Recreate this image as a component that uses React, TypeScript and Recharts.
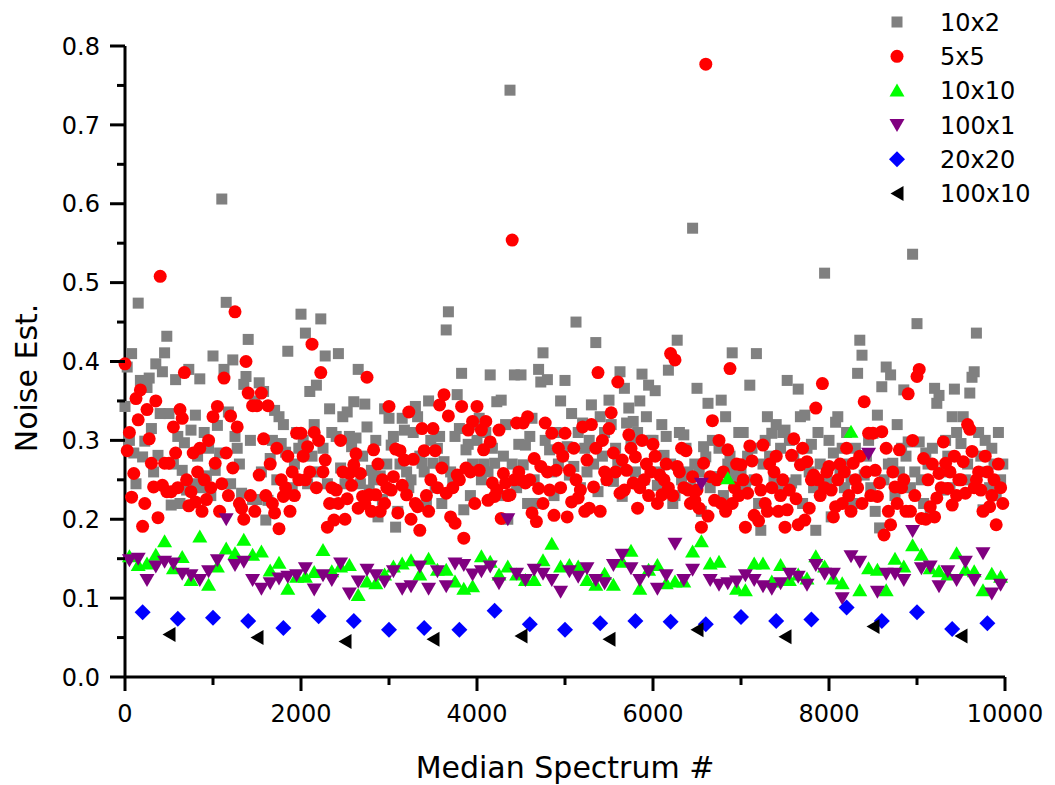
import { ScatterChart, Scatter, XAxis, YAxis } from "recharts";

// 10x2 : one value every 25 spectra, starting at 0
const gray10x2 = [
  0.343, 0.393, 0.3, 0.41, 0.284, 0.245, 0.474, 0.376, 0.279, 0.299, 0.367, 0.379, 0.315, 0.26, 0.397, 0.281, 0.334, 0.387, 0.411, 0.432,
  0.334, 0.218, 0.27, 0.377, 0.305, 0.22, 0.262, 0.297, 0.237, 0.39, 0.313, 0.245, 0.332, 0.28, 0.378, 0.24, 0.31, 0.255, 0.29, 0.23,
  0.407, 0.262, 0.319, 0.284, 0.606, 0.39, 0.475, 0.336, 0.245, 0.402, 0.305, 0.29, 0.27, 0.233, 0.371, 0.381, 0.428, 0.3, 0.225, 0.35,
  0.225, 0.373, 0.26, 0.362, 0.199, 0.224, 0.277, 0.3, 0.338, 0.25, 0.33, 0.296, 0.32, 0.285, 0.413, 0.235, 0.24, 0.27, 0.31, 0.29,
  0.46, 0.3, 0.436, 0.245, 0.362, 0.28, 0.32, 0.37, 0.26, 0.454, 0.29, 0.407, 0.245, 0.34, 0.31, 0.22, 0.305, 0.41, 0.265, 0.33,
  0.245, 0.336, 0.305, 0.292, 0.349, 0.303, 0.39, 0.245, 0.28, 0.346, 0.317, 0.237, 0.262, 0.25, 0.3, 0.203, 0.255, 0.225, 0.34, 0.27,
  0.328, 0.294, 0.305, 0.19, 0.21, 0.27, 0.328, 0.313, 0.26, 0.24, 0.25, 0.31, 0.343, 0.33, 0.28, 0.271, 0.26, 0.22, 0.35, 0.3,
  0.271, 0.24, 0.29, 0.305, 0.22, 0.273, 0.44, 0.463, 0.26, 0.25, 0.305, 0.358, 0.315, 0.385, 0.212, 0.288, 0.295, 0.23, 0.27, 0.32,
  0.3, 0.328, 0.25, 0.27, 0.31, 0.26, 0.383, 0.29, 0.271, 0.349, 0.23, 0.351, 0.28, 0.32, 0.2, 0.744, 0.27, 0.383, 0.24, 0.295,
  0.383, 0.269, 0.294, 0.22, 0.305, 0.328, 0.25, 0.22, 0.39, 0.374, 0.411, 0.3, 0.377, 0.288, 0.26, 0.23, 0.31, 0.27, 0.35, 0.28,
  0.376, 0.292, 0.256, 0.334, 0.267, 0.45, 0.31, 0.24, 0.322, 0.29, 0.26, 0.3, 0.345, 0.27, 0.424, 0.235, 0.33, 0.28, 0.31, 0.25,
  0.351, 0.32, 0.248, 0.29, 0.27, 0.387, 0.229, 0.366, 0.322, 0.341, 0.3, 0.324, 0.26, 0.31, 0.35, 0.384, 0.25, 0.33, 0.37, 0.3,
  0.3, 0.363, 0.243, 0.26, 0.32, 0.281, 0.305, 0.389, 0.27, 0.22, 0.23, 0.427, 0.31, 0.25, 0.307, 0.29, 0.26, 0.24, 0.569, 0.27,
  0.366, 0.26, 0.21, 0.292, 0.279, 0.347, 0.24, 0.3, 0.25, 0.254, 0.29, 0.351, 0.23, 0.33, 0.27, 0.28, 0.411, 0.26, 0.25, 0.31,
  0.26, 0.31, 0.24, 0.28, 0.37, 0.29, 0.25, 0.41, 0.22, 0.186, 0.27, 0.3, 0.33, 0.28, 0.309, 0.25, 0.32, 0.24, 0.29, 0.31,
  0.313, 0.376, 0.3, 0.246, 0.28, 0.25, 0.365, 0.33, 0.22, 0.332, 0.29, 0.26, 0.295, 0.24, 0.186, 0.31, 0.27, 0.25, 0.512, 0.25,
  0.3, 0.203, 0.284, 0.323, 0.33, 0.26, 0.29, 0.24, 0.31, 0.27, 0.25, 0.22, 0.29, 0.385, 0.427, 0.408, 0.256, 0.28, 0.3, 0.24,
  0.309, 0.21, 0.332, 0.189, 0.368, 0.25, 0.393, 0.27, 0.383, 0.271, 0.23, 0.32, 0.26, 0.29, 0.364, 0.28, 0.298, 0.24, 0.536, 0.26,
  0.448, 0.298, 0.25, 0.22, 0.284, 0.27, 0.21, 0.29, 0.366, 0.347, 0.357, 0.26, 0.237, 0.3, 0.28, 0.24, 0.33, 0.365, 0.31, 0.25,
  0.296, 0.33, 0.25, 0.27, 0.36, 0.38, 0.387, 0.436, 0.31, 0.28, 0.212, 0.3, 0.26, 0.24, 0.29, 0.27, 0.23, 0.31, 0.25, 0.27,
];

// 5x5 : one value every 25 spectra, starting at 0
const red5x5 = [
  0.397, 0.287, 0.31, 0.228, 0.258, 0.353, 0.326, 0.364, 0.191, 0.22, 0.339, 0.302, 0.271, 0.241, 0.35, 0.202, 0.508, 0.243, 0.271, 0.235,
  0.271, 0.235, 0.317, 0.284, 0.24, 0.339, 0.328, 0.386, 0.25, 0.217, 0.235, 0.284, 0.222, 0.26, 0.29, 0.21, 0.25, 0.225, 0.3, 0.24,
  0.33, 0.271, 0.343, 0.21, 0.245, 0.379, 0.284, 0.23, 0.331, 0.265, 0.463, 0.317, 0.22, 0.214, 0.2, 0.4, 0.36, 0.23, 0.344, 0.21,
  0.344, 0.256, 0.36, 0.302, 0.23, 0.344, 0.27, 0.22, 0.208, 0.29, 0.188, 0.25, 0.229, 0.24, 0.28, 0.21, 0.26, 0.23, 0.309, 0.25,
  0.309, 0.28, 0.25, 0.292, 0.26, 0.422, 0.31, 0.24, 0.3, 0.386, 0.26, 0.275, 0.19, 0.22, 0.24, 0.199, 0.237, 0.22, 0.3, 0.26,
  0.2, 0.226, 0.258, 0.243, 0.269, 0.283, 0.214, 0.258, 0.229, 0.22, 0.38, 0.231, 0.21, 0.288, 0.231, 0.27, 0.21, 0.25, 0.22, 0.24,
  0.343, 0.237, 0.254, 0.289, 0.208, 0.287, 0.243, 0.275, 0.231, 0.336, 0.2, 0.276, 0.22, 0.216, 0.186, 0.315, 0.287, 0.23, 0.21, 0.25,
  0.315, 0.287, 0.24, 0.345, 0.265, 0.358, 0.233, 0.331, 0.203, 0.24, 0.195, 0.256, 0.25, 0.343, 0.176, 0.265, 0.313, 0.26, 0.324, 0.22,
  0.343, 0.262, 0.313, 0.288, 0.324, 0.224, 0.298, 0.246, 0.229, 0.237, 0.313, 0.201, 0.258, 0.246, 0.23, 0.231, 0.554, 0.25, 0.322, 0.26,
  0.25, 0.322, 0.246, 0.33, 0.25, 0.208, 0.277, 0.197, 0.239, 0.267, 0.22, 0.322, 0.26, 0.237, 0.309, 0.205, 0.262, 0.29, 0.24, 0.28,
  0.309, 0.203, 0.262, 0.222, 0.29, 0.25, 0.227, 0.237, 0.317, 0.21, 0.275, 0.214, 0.32, 0.241, 0.29, 0.386, 0.21, 0.3, 0.26, 0.25,
  0.315, 0.335, 0.284, 0.26, 0.374, 0.233, 0.275, 0.237, 0.262, 0.307, 0.29, 0.246, 0.279, 0.214, 0.24, 0.3, 0.25, 0.27, 0.23, 0.26,
  0.295, 0.28, 0.22, 0.256, 0.231, 0.25, 0.27, 0.24, 0.41, 0.23, 0.402, 0.267, 0.26, 0.29, 0.24, 0.287, 0.237, 0.22, 0.254, 0.224,
  0.237, 0.214, 0.19, 0.271, 0.777, 0.204, 0.254, 0.325, 0.224, 0.25, 0.3, 0.22, 0.26, 0.21, 0.288, 0.391, 0.22, 0.24, 0.27, 0.23,
  0.269, 0.25, 0.19, 0.233, 0.293, 0.274, 0.205, 0.25, 0.198, 0.237, 0.294, 0.22, 0.21, 0.27, 0.24, 0.26, 0.28, 0.21, 0.23, 0.25,
  0.19, 0.212, 0.237, 0.281, 0.302, 0.226, 0.193, 0.269, 0.29, 0.199, 0.273, 0.214, 0.25, 0.256, 0.341, 0.25, 0.23, 0.372, 0.24, 0.26,
  0.267, 0.237, 0.203, 0.216, 0.25, 0.27, 0.22, 0.26, 0.29, 0.23, 0.21, 0.271, 0.25, 0.24, 0.28, 0.22, 0.349, 0.26, 0.309, 0.23,
  0.309, 0.262, 0.229, 0.246, 0.311, 0.18, 0.29, 0.21, 0.193, 0.26, 0.241, 0.22, 0.288, 0.24, 0.25, 0.21, 0.359, 0.21, 0.3, 0.23,
  0.381, 0.39, 0.201, 0.277, 0.2, 0.25, 0.216, 0.27, 0.203, 0.227, 0.258, 0.24, 0.298, 0.271, 0.239, 0.26, 0.218, 0.28, 0.23, 0.25,
  0.25, 0.273, 0.233, 0.32, 0.314, 0.286, 0.24, 0.25, 0.26, 0.237, 0.21, 0.28, 0.26, 0.216, 0.23, 0.25, 0.193, 0.27, 0.24, 0.22,
];

// 10x10 : every 100 spectra, starting at 50
const green10x10 = [
  0.153, 0.142, 0.144, 0.155, 0.172, 0.138, 0.152, 0.123, 0.178, 0.117,
  0.14, 0.163, 0.157, 0.174, 0.155, 0.159, 0.135, 0.145, 0.112, 0.127,
  0.127, 0.133, 0.161, 0.134, 0.14, 0.142, 0.104, 0.121, 0.119, 0.13,
  0.14, 0.144, 0.148, 0.13, 0.15, 0.136, 0.136, 0.121, 0.112, 0.115,
  0.153, 0.146, 0.13, 0.14, 0.13, 0.123, 0.123, 0.148, 0.169, 0.14,
  0.142, 0.14, 0.123, 0.117, 0.131, 0.117, 0.146, 0.16, 0.112, 0.136,
  0.142, 0.119, 0.121, 0.121, 0.159, 0.172, 0.144, 0.146, 0.252, 0.112,
  0.11, 0.144, 0.144, 0.121, 0.142, 0.123, 0.13, 0.125, 0.153, 0.14,
  0.125, 0.119, 0.311, 0.11, 0.138, 0.136, 0.11, 0.15, 0.14, 0.167,
  0.155, 0.138, 0.134, 0.13, 0.157, 0.136, 0.134, 0.11, 0.131, 0.127,
];

// 100x1 : every 100 spectra, starting at 50
const purple100x1 = [
  0.148, 0.15, 0.123, 0.14, 0.146, 0.144, 0.131, 0.129, 0.123, 0.134,
  0.148, 0.2, 0.142, 0.146, 0.123, 0.112, 0.119, 0.125, 0.127, 0.129,
  0.138, 0.111, 0.129, 0.123, 0.144, 0.106, 0.121, 0.136, 0.129, 0.121,
  0.134, 0.112, 0.115, 0.14, 0.112, 0.134, 0.115, 0.144, 0.142, 0.13,
  0.134, 0.14, 0.119, 0.2, 0.131, 0.123, 0.136, 0.131, 0.123, 0.108,
  0.134, 0.127, 0.138, 0.123, 0.119, 0.142, 0.155, 0.138, 0.123, 0.134,
  0.112, 0.129, 0.169, 0.123, 0.136, 0.245, 0.123, 0.117, 0.119, 0.121,
  0.129, 0.123, 0.115, 0.112, 0.119, 0.131, 0.127, 0.117, 0.142, 0.131,
  0.131, 0.1, 0.153, 0.146, 0.283, 0.108, 0.131, 0.131, 0.123, 0.185,
  0.138, 0.14, 0.115, 0.134, 0.123, 0.146, 0.123, 0.157, 0.106, 0.117,
];

// 20x20 : every 400 spectra, starting at 200
const blue20x20 = [
  0.082, 0.074, 0.075, 0.071, 0.062, 0.077, 0.071, 0.06, 0.062, 0.06, 0.084, 0.067, 0.06,
  0.068, 0.071, 0.07, 0.067, 0.076, 0.071, 0.073, 0.088, 0.071, 0.082, 0.061, 0.068,
];

// 100x10 : every 1000 spectra, starting at 500
const black100x10 = [0.054, 0.05, 0.045, 0.048, 0.052, 0.048, 0.06, 0.051, 0.064, 0.052];

const xTicks = [0, 1000, 2000, 3000, 4000, 5000, 6000, 7000, 8000, 9000, 10000];
const yTicks = [0, 0.05, 0.1, 0.15, 0.2, 0.25, 0.3, 0.35, 0.4, 0.45, 0.5, 0.55, 0.6, 0.65, 0.7, 0.75, 0.8];
const seriesNames = ["10x2", "5x5", "10x10", "100x1", "20x20", "100x10"];

const toPoints = (vals: number[], start: number, step: number) =>
  vals.map((v, i) => ({ x: start + i * step, y: v }));

const FONT = "'DejaVu Sans', Verdana, sans-serif";

const square = (cx: number, cy: number) => <rect x={cx - 5.5} y={cy - 5.5} width={11} height={11} fill="#808080" />;
const circle = (cx: number, cy: number) => <circle cx={cx} cy={cy} r={6.5} fill="#ff0000" />;
const upTri = (cx: number, cy: number) => (
  <polygon points={`${cx},${cy - 7} ${cx + 7.5},${cy + 6} ${cx - 7.5},${cy + 6}`} fill="#00ff00" />
);
const downTri = (cx: number, cy: number) => (
  <polygon points={`${cx - 7.5},${cy - 6} ${cx + 7.5},${cy - 6} ${cx},${cy + 7}`} fill="#800080" />
);
const diamond = (cx: number, cy: number) => (
  <polygon points={`${cx},${cy - 8} ${cx + 8},${cy} ${cx},${cy + 8} ${cx - 8},${cy}`} fill="#0000ff" />
);
const leftTri = (cx: number, cy: number) => (
  <polygon points={`${cx - 6.5},${cy} ${cx + 6.5},${cy - 7.5} ${cx + 6.5},${cy + 7.5}`} fill="#000000" />
);

const markers = [square, circle, upTri, downTri, diamond, leftTri];

const shapeOf = (draw: (cx: number, cy: number) => JSX.Element) => (props: any) => {
  if (props.cx == null || props.cy == null) return <g />;
  return draw(props.cx, props.cy);
};

const XTick = (props: any) => {
  const { x, y, payload } = props;
  const v = payload.value;
  const major = v % 2000 === 0;
  return (
    <g>
      <line x1={x} x2={x} y1={y} y2={y + (major ? 14 : 8)} stroke="#000" strokeWidth={3} />
      {major && (
        <text x={x} y={y + 45} textAnchor="middle" fontSize={24} fontFamily={FONT} fill="#000">
          {v}
        </text>
      )}
    </g>
  );
};

const YTick = (props: any) => {
  const { x, y, payload } = props;
  const v = payload.value;
  const major = Math.abs(v * 10 - Math.round(v * 10)) < 1e-6;
  return (
    <g>
      <line x1={x} x2={x - (major ? 15 : 8)} y1={y} y2={y} stroke="#000" strokeWidth={3} />
      {major && (
        <text x={x - 25} y={y} dy="0.36em" textAnchor="end" fontSize={24} fontFamily={FONT} fill="#000">
          {v.toFixed(1)}
        </text>
      )}
    </g>
  );
};

export default function App() {
  const series = [
    toPoints(gray10x2, 0, 25),
    toPoints(red5x5, 0, 25),
    toPoints(green10x10, 50, 100),
    toPoints(purple100x1, 50, 100),
    toPoints(blue20x20, 200, 400),
    toPoints(black100x10, 500, 1000),
  ];

  return (
    <div style={{ position: "relative", width: 1040, height: 777 }}>
      <ScatterChart width={1040} height={777} margin={{ top: 38, right: 43, bottom: 0, left: 0 }}>
        <XAxis
          type="number"
          dataKey="x"
          domain={[0, 10000]}
          ticks={xTicks}
          interval={0}
          height={108}
          tickSize={0}
          tickMargin={0}
          tickLine={false}
          tick={XTick}
          axisLine={{ stroke: "#000", strokeWidth: 3 }}
          label={() => (
            <text x={557} y={770} textAnchor="middle" fontSize={30} fontFamily={FONT} fill="#000">
              Median Spectrum #
            </text>
          )}
        />
        <YAxis
          type="number"
          dataKey="y"
          domain={[0, 0.8]}
          ticks={yTicks}
          interval={0}
          width={117}
          tickSize={0}
          tickMargin={0}
          tickLine={false}
          tick={YTick}
          allowDataOverflow
          axisLine={{ stroke: "#000", strokeWidth: 3 }}
          label={() => (
            <text
              x={29}
              y={370}
              transform="rotate(-90 29 370)"
              textAnchor="middle"
              fontSize={30}
              fontFamily={FONT}
              fill="#000"
            >
              Noise Est.
            </text>
          )}
        />
        {series.map((pts, i) => (
          <Scatter
            key={seriesNames[i]}
            name={seriesNames[i]}
            data={pts}
            shape={shapeOf(markers[i])}
            isAnimationActive={false}
          />
        ))}
      </ScatterChart>
      <svg
        width={1040}
        height={220}
        style={{ position: "absolute", left: 0, top: 0, pointerEvents: "none" }}
      >
        {seriesNames.map((name, i) => {
          const cy = 14 + i * 34.3;
          return (
            <g key={name}>
              {markers[i](889, cy)}
              <text x={932} y={cy} dy="0.36em" fontSize={24} fontFamily={FONT} fill="#000">
                {name}
              </text>
            </g>
          );
        })}
      </svg>
    </div>
  );
}
